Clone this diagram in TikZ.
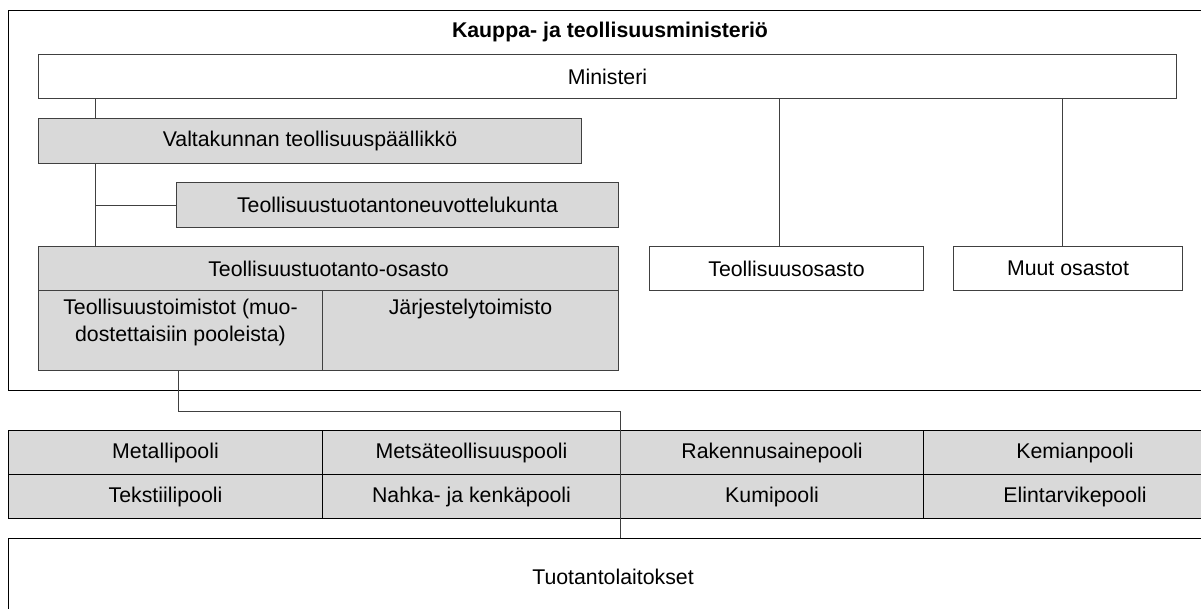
\documentclass[tikz,border=0pt]{standalone}
\usepackage{fontspec}
\setmainfont{Liberation Sans}
\usepackage{xcolor}
\usetikzlibrary{positioning}
\definecolor{boxgray}{RGB}{217,217,217}
\definecolor{linegray}{RGB}{64,64,64}

\begin{document}
\begin{tikzpicture}[x=1pt, y=-1pt,
    unit/.style={draw=linegray, line width=1pt, rectangle, anchor=north west, inner sep=0pt, align=center, font=\fontsize{21.3}{27}\selectfont},
    shaded/.style={unit, fill=boxgray},
    pool/.style={shaded, draw=black, minimum height=44pt},
    toplabel/.style={font=\fontsize{21.3}{27}\selectfont, align=center, anchor=north, label distance=-6pt},
    conn/.style={draw=linegray, line width=1pt}]
    \useasboundingbox (0,0) rectangle (1201,608);
    \clip (0,0) rectangle (1201,608);

    % Ministry frame
    \node[unit, draw=black, minimum width=1220pt, minimum height=380pt] (frame) at (8,10) {};
    \node[font=\bfseries\fontsize{21.3}{27}\selectfont] (title) at (610,32) {Kauppa- ja teollisuusministeriö};

    % Top of the ministry
    \node[unit, minimum width=1138pt, minimum height=44pt] (minister) at (38,54) {Ministeri};
    \node[shaded, minimum width=543pt, minimum height=45pt] (chief) at (38,118) {Valtakunnan teollisuuspäällikkö};
    \node[shaded, minimum width=442pt, minimum height=45pt] (council) at (176,182) {Teollisuustuotantoneuvottelukunta};

    % Departments
    \node[shaded, minimum width=580pt, minimum height=44pt] (proddept) at (38,246) {Teollisuustuotanto-osasto};
    \node[shaded, minimum width=284pt, minimum height=80pt,
        label={[toplabel]north:Teollisuustoimistot (muo-\\dostettaisiin pooleista)}] (offices) at (38,290) {};
    \node[shaded, minimum width=296pt, minimum height=80pt,
        label={[toplabel]north:Järjestelytoimisto}] (orgoffice) at (322,290) {};
    \node[unit, minimum width=274pt, minimum height=44pt] (inddept) at (649,246) {Teollisuusosasto};
    \node[unit, minimum width=229pt, minimum height=44pt] (otherdept) at (953,246) {Muut osastot};

    % Pools
    \node[pool, minimum width=314pt] (metal) at (8,430) {Metallipooli};
    \node[pool, minimum width=298pt] (forest) at (322,430) {Metsäteollisuuspooli};
    \node[pool, minimum width=303pt] (building) at (620,430) {Rakennusainepooli};
    \node[pool, minimum width=303pt] (chem) at (923,430) {Kemianpooli};
    \node[pool, minimum width=314pt] (textile) at (8,474) {Tekstiilipooli};
    \node[pool, minimum width=298pt] (leather) at (322,474) {Nahka- ja kenkäpooli};
    \node[pool, minimum width=303pt] (rubber) at (620,474) {Kumipooli};
    \node[pool, minimum width=303pt] (food) at (923,474) {Elintarvikepooli};

    % Plants
    \node[unit, draw=black, minimum width=1210pt, minimum height=100pt] (plants) at (8,538) {};
    \node[font=\fontsize{21.3}{27}\selectfont] (plantstext) at (613,577) {Tuotantolaitokset};

    % Connections
    \coordinate (leftline) at (95,0);
    \coordinate (poolline) at (620,411);
    \draw[conn] (minister.south -| leftline) -- (chief.north -| leftline);
    \draw[conn] (chief.south -| leftline) -- (proddept.north -| leftline);
    \draw[conn] (council.west -| leftline) -- (council.west);
    \draw[conn] (minister.south -| 779,0) -- (inddept.north -| 779,0);
    \draw[conn] (minister.south -| 1062,0) -- (otherdept.north -| 1062,0);
    \draw[conn] (offices.south -| 178,0) |- (poolline) -- (plants.north -| poolline);
\end{tikzpicture}
\end{document}
